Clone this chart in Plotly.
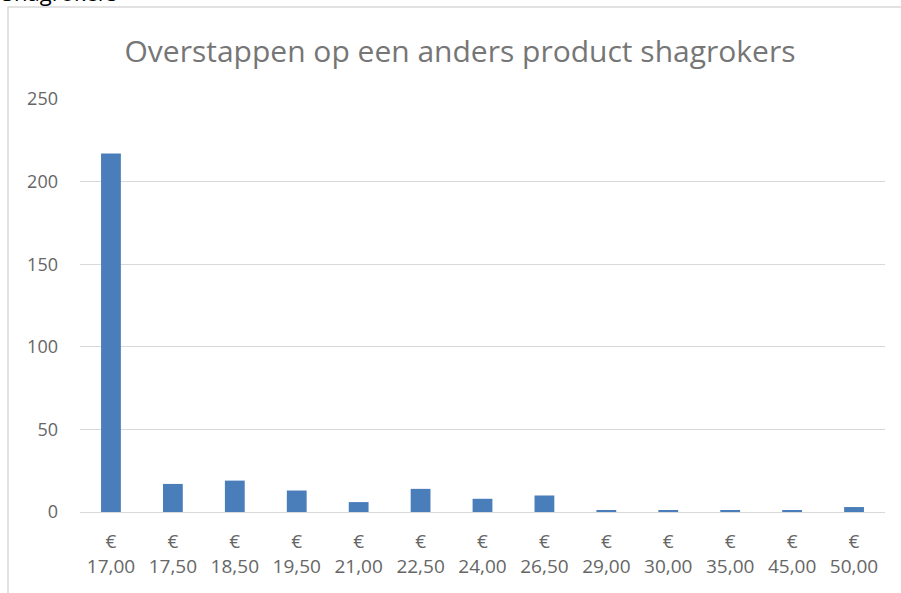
import plotly.graph_objects as go

prices = ["17,00", "17,50", "18,50", "19,50", "21,00", "22,50", "24,00",
          "26,50", "29,00", "30,00", "35,00", "45,00", "50,00"]
counts = [217, 17, 19, 13, 6, 14, 8, 10, 1, 1, 1, 1, 3]
y_ticks = [0, 50, 100, 150, 200, 250]

labels = ["€<br>" + p for p in prices]

W, H = 901, 593
ml, mr, mt, mb = 80, 16, 99, 81
pw = W - ml - mr
ph = H - mt - mb

fig = go.Figure(go.Bar(x=labels, y=counts, marker=dict(color="#4a7ebb", line=dict(width=0))))

font = "Open Sans, DejaVu Sans, sans-serif"
fig.update_layout(
    width=W, height=H,
    margin=dict(l=ml, r=mr, t=mt, b=mb),
    paper_bgcolor="white", plot_bgcolor="white",
    bargap=0.68,
    showlegend=False,
    font=dict(family=font, color="#595959", size=18),
    title=dict(text="Overstappen op een anders product shagrokers",
               x=(460) / W, xanchor="center", y=1 - 51 / H, yanchor="middle",
               font=dict(size=30, color="#767676", family=font)),
    xaxis=dict(type="category", showgrid=False, showline=True, linecolor="#d9d9d9",
               linewidth=1, ticks="", tickfont=dict(size=19, color="#666666"),
               ticklabelstandoff=12),
    yaxis=dict(range=[0, 250], tickvals=y_ticks, showgrid=True, gridcolor="#d9d9d9",
               gridwidth=1, zeroline=False, showline=False, ticks="",
               tickfont=dict(size=18, color="#666666"), ticklabelstandoff=21),
)

# chart frame border
fig.add_shape(type="rect", xref="paper", yref="paper",
              x0=(8 - ml) / pw, x1=(W + 20 - ml) / pw,
              y0=(mt + ph - (H + 20)) / ph, y1=(mt + ph - 7) / ph,
              line=dict(color="#d9d9d9", width=1.5), layer="below")

fig.add_annotation(text="Shagrokers", xref="paper", yref="paper",
                   x=(0 - ml) / pw, xanchor="left",
                   y=(mt + ph + 8) / ph, yanchor="middle", showarrow=False,
                   font=dict(size=22, color="#000000", family=font))

fig.write_html("out.html", config={"displayModeBar": False},
               post_script="document.body.style.margin='0';document.body.style.overflow='hidden';")
